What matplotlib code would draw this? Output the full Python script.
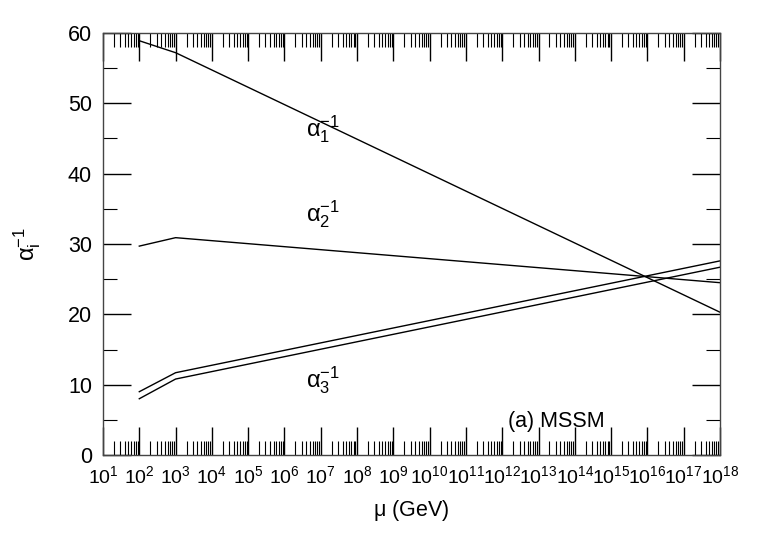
import numpy as np
import matplotlib.pyplot as plt
from matplotlib.ticker import LogLocator, MultipleLocator, FuncFormatter

plt.rcParams['font.family'] = ['Liberation Sans', 'DejaVu Sans']
plt.rcParams['mathtext.fontset'] = 'custom'
plt.rcParams['mathtext.rm'] = 'Liberation Sans'
plt.rcParams['mathtext.it'] = 'Liberation Sans:italic'
plt.rcParams['mathtext.sf'] = 'Liberation Sans'

# scale points (GeV) and inverse couplings
mu = [1e2, 1e3, 1e18]
alpha1_inv = [58.9, 57.2, 20.3]
alpha2_inv = [29.7, 30.9, 24.5]
alpha3_inv_upper = [9.0, 11.7, 27.6]
alpha3_inv_lower = [8.0, 10.8, 26.7]

fig = plt.figure(figsize=(7.63, 5.34), dpi=100)
ax = fig.add_axes([103 / 763, 1 - 455 / 534, (720 - 103) / 763, (455 - 33) / 534])

for ys in (alpha1_inv, alpha2_inv, alpha3_inv_upper, alpha3_inv_lower):
    ax.plot(mu, ys, color='k', lw=1.0)

ax.set_xscale('log')
ax.set_xlim(1e1, 1e18)
ax.set_ylim(0, 60)

ax.xaxis.set_major_locator(LogLocator(base=10, numticks=30))
ax.xaxis.set_minor_locator(LogLocator(base=10, subs=np.arange(2, 10), numticks=30))
ax.xaxis.set_major_formatter(FuncFormatter(lambda v, p: r'$\mathregular{10^{%d}}$' % round(np.log10(v))))
ax.yaxis.set_major_locator(MultipleLocator(10))
ax.yaxis.set_minor_locator(MultipleLocator(5))

ax.tick_params(which='both', direction='in', top=True, right=True, colors='k')
ax.tick_params(which='major', length=20, width=1.0)
ax.tick_params(which='minor', length=10, width=0.8)
ax.tick_params(axis='x', which='major', pad=7, labelsize=14)
ax.tick_params(axis='y', which='major', pad=8, labelsize=15.5)
for s in ax.spines.values():
    s.set_linewidth(1.0)
    s.set_color('#444444')

ax.set_xlabel(r'$\mathregular{\mu}$ (GeV)', fontsize=15.5, labelpad=8)
ax.set_ylabel(r'$\mathregular{\alpha_i^{-1}}$', fontsize=17, labelpad=18)

ax.text(10**6.6, 46.3, r'$\mathregular{\alpha_1^{-1}}$', fontsize=17, ha='left', va='center')
ax.text(10**6.6, 34.3, r'$\mathregular{\alpha_2^{-1}}$', fontsize=17, ha='left', va='center')
ax.text(10**6.6, 10.6, r'$\mathregular{\alpha_3^{-1}}$', fontsize=17, ha='left', va='center')
ax.text(10**12.15, 4.8, '(a) MSSM', fontsize=15.5, ha='left', va='center')

fig.savefig('out.png', dpi=100)
